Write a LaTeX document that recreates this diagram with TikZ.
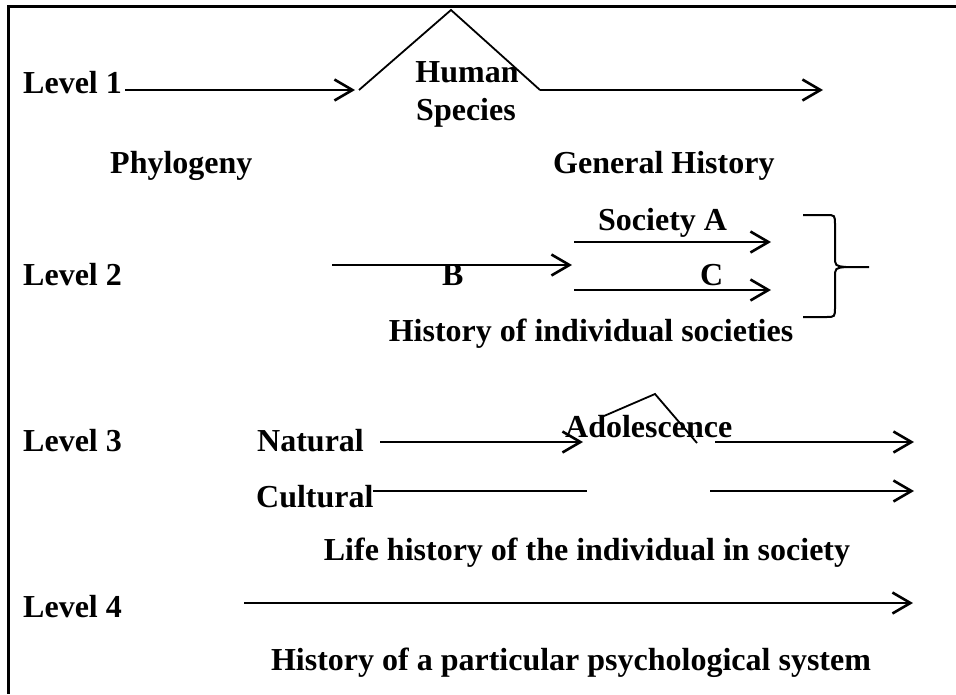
\documentclass[tikz,border=0pt]{standalone}
\usepackage{fontspec}
\setmainfont{Liberation Serif}
\usetikzlibrary{arrows.meta}
\begin{document}
\begin{tikzpicture}[x=1pt,y=-1pt,
  lbl/.style={font=\fontsize{32}{38}\selectfont\bfseries, inner sep=0pt, anchor=base west},
  ctr/.style={lbl, anchor=base},
  line/.style={line width=2.6pt},
  arr/.style={line, -{Straight Barb[length=18pt,width=21pt]}},
  thin/.style={line width=1.8pt, line join=miter}]
\useasboundingbox (0,0) rectangle (956,694);
% frame: top and left edges only
\draw[line width=3pt] (956,6) -- (8,6) -- (8,694);

% ---- Level 1 ----
\node[lbl] (lev1) at (23,93) {Level 1};
\node[ctr] (hum) at (467,82) {Human};
\node[ctr] (spec) at (466,120) {Species};
\node[lbl] (phylo) at (110,173) {Phylogeny};
\node[lbl] (genhist) at (553,173) {General History};
\coordinate (a1s) at (125,90);
\coordinate (a1e) at (355,90);
\coordinate (pkL) at (359,90);
\coordinate (pkT) at (451,10);
\coordinate (pkR) at (540,90);
\coordinate (a2e) at (823,90);
\draw[arr] (a1s) -- (a1e);
\draw[thin] (pkL) -- (pkT) -- (pkR);
\draw[arr] (pkR) -- (a2e);

% ---- Level 2 ----
\node[lbl] (lev2) at (23,285) {Level 2};
\node[lbl] (socA) at (598,230) {Society A};
\node[lbl] (socB) at (442,285) {B};
\node[lbl] (socC) at (700,285) {C};
\node[ctr] (indsoc) at (591,341) {History of individual societies};
\coordinate (bs) at (332,265);
\coordinate (be) at (572,265);
\coordinate (as) at (574,242);
\coordinate (ae) at (771,242);
\coordinate (cs) at (574,290);
\coordinate (ce) at (771,290);
\draw[arr] (bs) -- (be);
\draw[arr] (as) -- (ae);
\draw[arr] (cs) -- (ce);
% brace gathering the societies
\coordinate (brT) at (803,215);
\coordinate (brB) at (803,317);
\coordinate (brTip) at (869,267);
\draw[line width=2pt] (brT) -- (826,215) .. controls (835,215) .. (835,225)
  -- (835,256) .. controls (835,266) .. (846,267) -- (brTip);
\draw[line width=2pt] (brB) -- (826,317) .. controls (835,317) .. (835,307)
  -- (835,278) .. controls (835,268) .. (846,267);

% ---- Level 3 ----
\node[lbl] (lev3) at (23,451) {Level 3};
\node[lbl] (nat) at (257,451) {Natural};
\node[lbl] (cult) at (256,507) {Cultural};
\node[lbl] (adol) at (565,437) {Adolescence};
\node[ctr] (lifeh) at (587,560) {Life history of the individual in society};
\coordinate (ns) at (380,442);
\coordinate (ne) at (583,442);
\coordinate (qL) at (604,416);
\coordinate (qT) at (655,394);
\coordinate (qR) at (697,443);
\coordinate (n2s) at (715,442);
\coordinate (n2e) at (914,442);
\coordinate (cls) at (373,491);
\coordinate (cle) at (587,491);
\coordinate (c2s) at (710,491);
\coordinate (c2e) at (914,491);
\draw[arr] (ns) -- (ne);
\draw[thin] (qL) -- (qT) -- (qR);
\draw[arr] (n2s) -- (n2e);
\draw[line] (cls) -- (cle);
\draw[arr] (c2s) -- (c2e);

% ---- Level 4 ----
\node[lbl] (lev4) at (23,617) {Level 4};
\node[ctr] (psych) at (571,670) {History of a particular psychological system};
\coordinate (ps) at (244,603);
\coordinate (pe) at (913,603);
\draw[arr] (ps) -- (pe);
\end{tikzpicture}
\end{document}
